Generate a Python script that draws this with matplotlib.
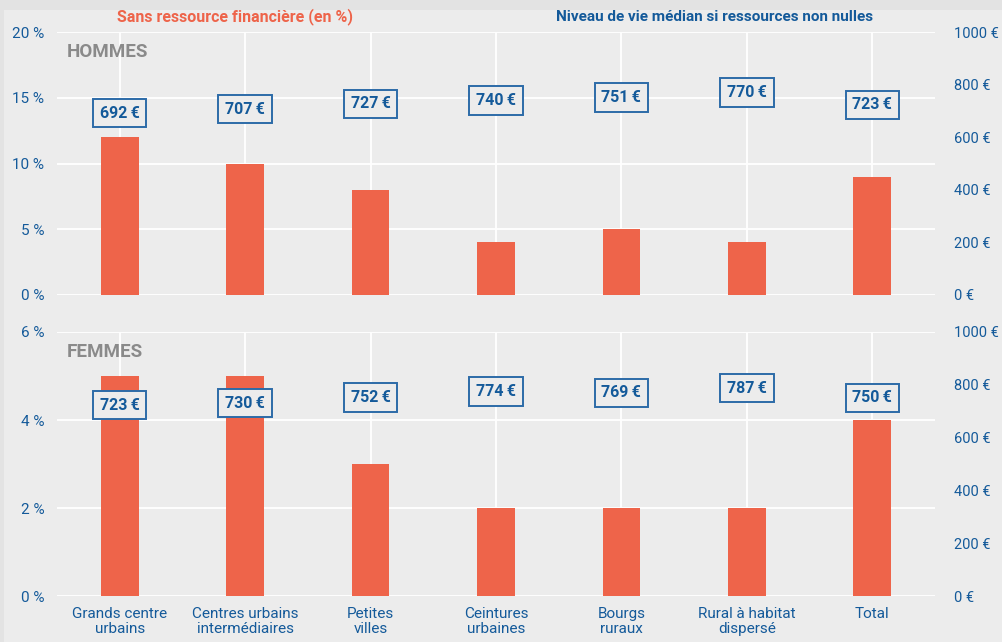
import matplotlib.pyplot as plt
from matplotlib.patches import Rectangle
from matplotlib import font_manager

# --- data -------------------------------------------------------------
categories = ["Grands centre\nurbains", "Centres urbains\nintermédiaires", "Petites\nvilles",
              "Ceintures\nurbaines", "Bourgs\nruraux", "Rural à habitat\ndispersé", "Total"]
hommes_pct = [12, 10, 8, 4, 5, 4, 9]
hommes_euro = [692, 707, 727, 740, 751, 770, 723]
femmes_pct = [5, 5, 3, 2, 2, 2, 4]
femmes_euro = [723, 730, 752, 774, 769, 787, 750]

hommes_pct_ticks = [0, 5, 10, 15, 20]
femmes_pct_ticks = [0, 2, 4, 6]
euro_ticks = [0, 200, 400, 600, 800, 1000]

# --- style ------------------------------------------------------------
available = {f.name for f in font_manager.fontManager.ttflist}
family = "Liberation Sans Narrow" if "Liberation Sans Narrow" in available else "Roboto"
plt.rcParams["font.family"] = [family, "DejaVu Sans"]

BG = "#ececec"
BAR = "#ee644a"
BLUE = "#145a9a"
BOX_EDGE = "#2c6ba8"
GREY = "#8a8a8a"

fig = plt.figure(figsize=(10.02, 6.42), dpi=100)
fig.patch.set_facecolor("#e3e3e3")
fig.add_artist(Rectangle((4 / 1002, 0), 1, 1 - 10 / 642, transform=fig.transFigure,
                         facecolor=BG, edgecolor="none", zorder=-10))

left, right = 57 / 1002, 935 / 1002
panels = [
    (1 - 295 / 642, 1 - 32 / 642, hommes_pct, hommes_euro, hommes_pct_ticks, "HOMMES"),
    (1 - 596 / 642, 1 - 332 / 642, femmes_pct, femmes_euro, femmes_pct_ticks, "FEMMES"),
]
x = list(range(len(categories)))

for idx, (b, t, pct, euro, pticks, label) in enumerate(panels):
    ax = fig.add_axes([left, b, right - left, t - b])
    ax.set_facecolor("none")
    ax.bar(x, pct, width=0.3, color=BAR, zorder=2)
    ax.set_xlim(-0.5, len(categories) - 0.5)
    ax.set_ylim(pticks[0], pticks[-1])
    ax.set_yticks(pticks)
    ax.set_yticklabels([f"{v} %" for v in pticks])
    ax.set_xticks(x)
    ax.grid(True, color="white", linewidth=1.3, zorder=0)
    ax.set_axisbelow(True)
    for s in ax.spines.values():
        s.set_visible(False)
    ax.tick_params(axis="both", length=0, colors=BLUE, labelsize=11)
    ax.tick_params(axis="y", pad=9)
    if idx == 0:
        ax.set_xticklabels([])
    else:
        ax.set_xticklabels(categories, linespacing=1.05)
        ax.tick_params(axis="x", pad=8)
    ax.text(10 / (right - left) / 1002, 0.925, label, transform=ax.transAxes,
            color=GREY, fontsize=13.5, fontweight="bold", va="center", ha="left")

    ax2 = ax.twinx()
    ax2.set_ylim(euro_ticks[0], euro_ticks[-1])
    ax2.set_yticks(euro_ticks)
    ax2.set_yticklabels([f"{v} €" for v in euro_ticks])
    ax2.tick_params(axis="y", length=0, colors=BLUE, labelsize=10.5, pad=14)
    for s in ax2.spines.values():
        s.set_visible(False)
    for xi, v in zip(x, euro):
        ax2.text(xi, v, f"{v}\u2009€", ha="center", va="center", color=BLUE,
                 fontsize=11.5, fontweight="bold", zorder=5,
                 bbox=dict(boxstyle="square,pad=0.42", facecolor=BG,
                           edgecolor=BOX_EDGE, linewidth=1.4))

fig.text(235 / 1002, 1 - 17 / 642, "Sans ressource financière (en %)", color=BAR,
         fontsize=11.5, fontweight="bold", ha="center", va="center")
fig.text(715 / 1002, 1 - 17 / 642, "Niveau de vie médian si ressources non nulles", color=BLUE,
         fontsize=11, fontweight="bold", ha="center", va="center")

fig.savefig("out.png", dpi=100, facecolor=fig.get_facecolor())
